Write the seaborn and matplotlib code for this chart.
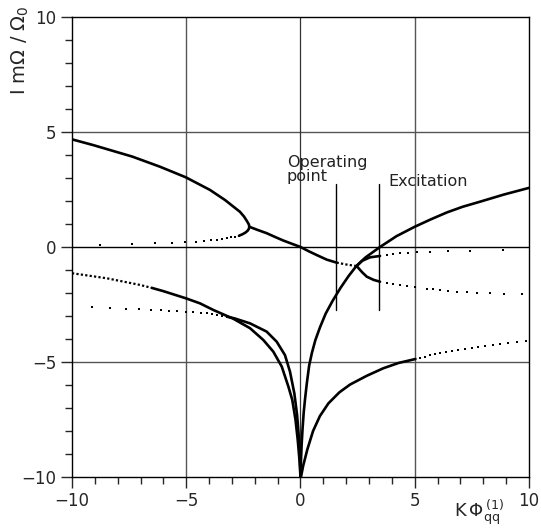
import matplotlib
matplotlib.use("Agg")
import matplotlib.pyplot as plt
import seaborn as sns
from matplotlib.ticker import MultipleLocator

# --- curves (solid parts) ---
upper_x = [-10, -9.07, -7.36, -6.15, -5.02, -3.96, -3.3, -2.65, -2.47, -2.34,
           -2.26, -2.24]
upper_y = [4.68, 4.43, 3.93, 3.49, 3.03, 2.48, 2.04, 1.53, 1.32, 1.12, 0.98,
           0.88]

tip_x = [-2.69, -2.55, -2.42, -2.32, -2.26, -2.24]
tip_y = [0.49, 0.55, 0.62, 0.70, 0.79, 0.88]

mid_x = [-2.24, -1.9, -1.48, -1.1, -0.75, -0.35, 0, 0.35, 0.71, 1.15, 1.58]
mid_y = [0.88, 0.75, 0.60, 0.43, 0.28, 0.13, 0, -0.18, -0.35, -0.55, -0.68]

mid_dense_x = [1.58, 2.0, 2.46]
mid_dense_y = [-0.68, -0.76, -0.83]

fold_up_x = [2.46, 2.7, 3.04, 3.48]
fold_up_y = [-0.83, -0.6, -0.45, -0.39]

fold_low_x = [2.46, 2.7, 2.9, 3.2, 3.48]
fold_low_y = [-0.83, -1.1, -1.29, -1.43, -1.51]

steep_x = [0, 0.02, 0.05, 0.09, 0.14, 0.2, 0.28, 0.38, 0.5, 0.65, 0.85, 1.1,
           1.4, 1.75, 2.1, 2.45, 2.85, 3.48, 4.2, 5.0, 5.7, 6.4, 7.1, 7.86,
           8.9, 10]
steep_y = [-10, -9.3, -8.6, -7.9, -7.2, -6.6, -5.9, -5.15, -4.6, -4.05, -3.5,
           -2.9, -2.35, -1.78, -1.27, -0.82, -0.45, 0, 0.47, 0.88, 1.2, 1.5,
           1.75, 1.97, 2.28, 2.57]

low_right_x = [0.02, 0.12, 0.3, 0.55, 0.85, 1.22, 1.7, 2.17, 2.9, 3.63, 4.3,
               5.03]
low_right_y = [-10, -9.5, -8.8, -8.0, -7.35, -6.8, -6.32, -5.98, -5.6, -5.27,
               -5.04, -4.87]

l1_dense_x = [-10, -8.48, -7.02, -6.5]
l1_dense_y = [-1.14, -1.36, -1.65, -1.78]

l1_x = [-6.5, -6.0, -5.02, -4.4, -3.81, -2.94, -2.21, -1.63, -1.19, -0.82,
        -0.53, -0.36, -0.22, -0.12, -0.05, 0]
l1_y = [-1.78, -1.92, -2.23, -2.45, -2.74, -3.12, -3.53, -4.04, -4.55, -5.2,
        -6.07, -6.65, -7.5, -8.4, -9.2, -10]

l2_x = [-3.22, -2.9, -2.21, -1.48, -1.04, -0.68, -0.46, -0.27, -0.15, -0.07,
        -0.02, 0]
l2_y = [-3.03, -3.1, -3.32, -3.68, -4.12, -4.7, -5.42, -6.36, -7.3, -8.3,
        -9.2, -10]

# --- dotted branches (individual dots) ---
dots_a_x = [-8.77, -7.36, -6.37, -5.64, -5.05, -4.59, -4.22, -3.93, -3.67,
            -3.45, -3.23, -3.04, -2.87, -2.69]
dots_a_y = [0.10, 0.13, 0.16, 0.19, 0.20, 0.23, 0.26, 0.29, 0.32, 0.35, 0.38,
            0.42, 0.45, 0.49]

dots_b_x = [3.77, 4.06, 4.35, 4.72, 5.1, 5.68, 6.44, 7.43, 8.86]
dots_b_y = [-0.35, -0.30, -0.28, -0.25, -0.20, -0.20, -0.17, -0.16, -0.14]

dots_c_x = [3.77, 4.06, 4.35, 4.65, 5.0, 5.52, 5.81, 6.1, 6.47, 6.84, 7.27,
            7.71, 8.29, 8.9, 9.68]
dots_c_y = [-1.55, -1.61, -1.65, -1.68, -1.75, -1.81, -1.84, -1.87, -1.90,
            -1.94, -1.97, -1.99, -2.01, -2.03, -2.06]

dots_d_x = [5.23, 5.45, 5.67, 5.89, 6.10, 6.35, 6.62, 6.91, 7.2, 7.49, 7.78,
            8.07, 8.41, 8.73, 9.09, 9.46, 9.87]
dots_d_y = [-4.81, -4.77, -4.71, -4.67, -4.62, -4.58, -4.54, -4.49, -4.45,
            -4.41, -4.36, -4.32, -4.28, -4.23, -4.19, -4.14, -4.09]

dots_e_x = [-9.14, -8.34, -7.64, -7.07, -6.55, -6.12, -5.74, -5.39, -5.02,
            -4.69, -4.35, -4.1, -3.89, -3.67, -3.45, -3.22]
dots_e_y = [-2.62, -2.65, -2.68, -2.70, -2.72, -2.75, -2.78, -2.80, -2.81,
            -2.83, -2.86, -2.88, -2.91, -2.94, -2.99, -3.03]

# marker lines for operating point / excitation
op_x = 1.55
exc_x = 3.45
mark_y = [-2.74, 2.73]

sns.set_style("ticks")
plt.rcParams['font.family'] = ['DejaVu Sans']

fig = plt.figure(figsize=(5.41, 5.31), dpi=100)
ax = fig.add_axes([0.1331, 0.1017, 0.8447, 0.8663])

ax.set_xlim(-10, 10)
ax.set_ylim(-10, 10)

# grid
for v in [-5, 5]:
    ax.axvline(v, color='#555555', lw=1.0, zorder=1)
    ax.axhline(v, color='#555555', lw=1.0, zorder=1)
ax.axvline(0, color='#333333', lw=0.9, zorder=1)
ax.axhline(0, color='black', lw=1.0, zorder=1)

solid = [(upper_x, upper_y), (tip_x, tip_y), (mid_x, mid_y),
         (fold_up_x, fold_up_y), (fold_low_x, fold_low_y),
         (steep_x, steep_y), (low_right_x, low_right_y),
         (l1_x, l1_y), (l2_x, l2_y)]
for xs, ys in solid:
    sns.lineplot(x=xs, y=ys, sort=False, estimator=None, color='black',
                 lw=1.9, ax=ax, zorder=3)

for xs, ys in [(mid_dense_x, mid_dense_y), (l1_dense_x, l1_dense_y)]:
    sns.lineplot(x=xs, y=ys, sort=False, estimator=None, color='black',
                 lw=1.6, ls=(0, (1, 1)), ax=ax, zorder=3)

for xs, ys in [(dots_a_x, dots_a_y), (dots_b_x, dots_b_y),
               (dots_c_x, dots_c_y), (dots_d_x, dots_d_y),
               (dots_e_x, dots_e_y)]:
    sns.scatterplot(x=xs, y=ys, color='black', s=2.5, marker='s',
                    linewidth=0, ax=ax, zorder=3)

for xv in [op_x, exc_x]:
    ax.plot([xv, xv], mark_y, color='black', lw=1.0, zorder=2)

ax.text(-0.6, 2.72, 'Operating\npoint', fontsize=11.5, va='bottom', ha='left',
        linespacing=0.95, color='#222222')
ax.text(3.85, 2.85, 'Excitation', fontsize=11.5, va='center', ha='left',
        color='#222222')

ax.xaxis.set_major_locator(MultipleLocator(5))
ax.yaxis.set_major_locator(MultipleLocator(5))
ax.xaxis.set_minor_locator(MultipleLocator(1))
ax.yaxis.set_minor_locator(MultipleLocator(1))
ax.tick_params(which='major', direction='out', length=8, width=1,
               labelsize=12, pad=3)
ax.tick_params(which='minor', direction='out', length=5, width=1)
for s in ax.spines.values():
    s.set_linewidth(1.0)
    s.set_color('black')

ax.set_ylabel(r'I m$\Omega$ / $\Omega_0$', fontsize=14, ha='right')
ax.yaxis.set_label_coords(-0.09, 1.026)
ax.set_xlabel(r'K$\,\Phi_{\mathrm{qq}}^{\,(1)}$', fontsize=13, ha='right')
ax.xaxis.set_label_coords(0.945, -0.045)

fig.savefig('out.png', dpi=100)
